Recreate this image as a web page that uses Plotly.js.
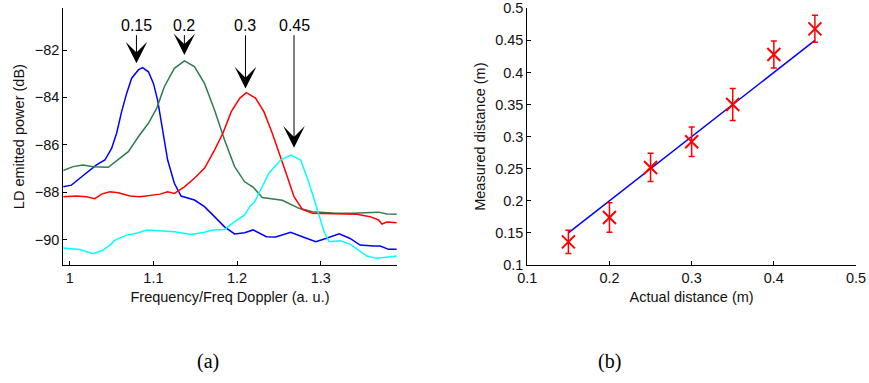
<!DOCTYPE html>
<html>
<head>
<meta charset="utf-8">
<script src="https://cdn.plot.ly/plotly-3.0.1.min.js"></script>
<style>html,body{margin:0;padding:0;background:#fff;}#chart{width:869px;height:383px;}</style>
</head>
<body>
<div id="chart"></div>
<script>
// ---- Panel (a): LD emitted power vs normalized frequency ----
const blueFreq = [0.992,1.002,1.012,1.024,1.032,1.042,1.050,1.056,1.062,1.068,1.074,1.082,1.087,1.094,1.100,1.105,1.110,1.117,1.125,1.133,1.149,1.161,1.173,1.185,1.197,1.209,1.219,1.235,1.246,1.264,1.278,1.294,1.306,1.322,1.335,1.347,1.363,1.371,1.381,1.391];
const bluePower = [-87.77,-87.70,-87.41,-87.06,-86.85,-86.64,-86.15,-85.51,-84.60,-83.83,-83.19,-82.84,-82.74,-82.92,-83.41,-84.11,-85.24,-86.64,-87.62,-88.16,-88.33,-88.61,-89.03,-89.46,-89.76,-89.71,-89.59,-89.88,-89.89,-89.69,-89.88,-90.09,-89.95,-89.75,-89.95,-90.23,-90.27,-90.27,-90.41,-90.41];

const greenFreq = [0.992,1.004,1.016,1.028,1.046,1.058,1.070,1.082,1.094,1.104,1.113,1.125,1.137,1.149,1.161,1.173,1.185,1.197,1.209,1.219,1.230,1.254,1.274,1.290,1.318,1.338,1.358,1.369,1.379,1.391];
const greenPower = [-87.09,-86.92,-86.85,-86.92,-86.95,-86.61,-86.29,-85.66,-85.09,-84.45,-83.55,-82.77,-82.46,-82.70,-83.41,-84.53,-85.80,-86.92,-87.56,-87.78,-88.22,-88.34,-88.68,-88.82,-88.89,-88.89,-88.87,-88.84,-88.92,-88.93];

const redFreq = [0.992,1.008,1.020,1.030,1.038,1.048,1.058,1.072,1.084,1.096,1.108,1.117,1.125,1.137,1.149,1.161,1.173,1.183,1.193,1.203,1.211,1.222,1.232,1.242,1.252,1.260,1.268,1.278,1.290,1.306,1.322,1.343,1.359,1.369,1.373,1.379,1.391];
const redPower = [-88.19,-88.16,-88.19,-88.27,-88.08,-87.98,-88.02,-88.16,-88.19,-88.12,-88.08,-87.98,-88.05,-87.77,-87.41,-86.99,-86.22,-85.51,-84.60,-84.04,-83.80,-84.03,-84.60,-85.51,-86.50,-87.35,-88.19,-88.72,-88.89,-88.90,-88.92,-88.93,-89.03,-89.17,-89.34,-89.26,-89.29];

const cyanFreq = [0.992,1.000,1.012,1.028,1.040,1.048,1.054,1.068,1.080,1.092,1.108,1.125,1.145,1.161,1.171,1.185,1.197,1.209,1.215,1.221,1.227,1.238,1.252,1.264,1.276,1.286,1.296,1.304,1.310,1.323,1.335,1.347,1.355,1.367,1.379,1.391];
const cyanPower = [-90.35,-90.37,-90.42,-90.59,-90.44,-90.23,-90.02,-89.81,-89.73,-89.59,-89.64,-89.67,-89.78,-89.69,-89.59,-89.57,-89.24,-88.96,-88.61,-88.40,-87.98,-87.20,-86.64,-86.43,-86.64,-87.62,-88.75,-89.67,-90.09,-90.05,-90.19,-90.51,-90.69,-90.79,-90.75,-90.69];

// arrow labels (distances) and where they point
const arrowLabels = ["0.15","0.2","0.3","0.45"];
const arrowTipFreq = [1.0797,1.137,1.210,1.268];
const arrowTipPower = [-82.56,-82.21,-83.62,-86.12];
const arrowTextPower = -80.95;

// ---- Panel (b): measured vs actual distance ----
const actualDist = [0.15,0.20,0.25,0.30,0.35,0.40,0.45];
const measuredDist = [0.136,0.174,0.252,0.292,0.350,0.428,0.468];
const measuredErr = [0.018,0.023,0.022,0.023,0.025,0.021,0.021];
const idealX = [0.15,0.45];
const idealY = [0.15,0.45];

const W = 869, H = 383;
const FONT = "Liberation Sans, Arial, sans-serif";
const lw = 1.5;

const traces = [
  {x: blueFreq, y: bluePower, mode:'lines', line:{color:'#0000ff', width:lw}, xaxis:'x', yaxis:'y'},
  {x: greenFreq, y: greenPower, mode:'lines', line:{color:'#2e7d4f', width:lw}, xaxis:'x', yaxis:'y'},
  {x: redFreq, y: redPower, mode:'lines', line:{color:'#ff0000', width:lw}, xaxis:'x', yaxis:'y'},
  {x: cyanFreq, y: cyanPower, mode:'lines', line:{color:'#00ffff', width:lw}, xaxis:'x', yaxis:'y'},
  {x: idealX, y: idealY, mode:'lines', line:{color:'#0000ff', width:lw}, xaxis:'x2', yaxis:'y2'},
  {x: actualDist, y: measuredDist, mode:'markers', xaxis:'x2', yaxis:'y2',
   marker:{symbol:'x-thin-open', size:13, color:'#ff0000', line:{color:'#ff0000', width:2}},
   error_y:{type:'data', array: measuredErr, visible:true, color:'#ff0000', thickness:1.5, width:3}}
];

const annotations = arrowLabels.map((t,i)=>({
  x: arrowTipFreq[i], y: arrowTipPower[i], xref:'x', yref:'y',
  ax: arrowTipFreq[i], ay: arrowTextPower, axref:'x', ayref:'y',
  text: t, showarrow:true, arrowhead:3, arrowsize:3.6, arrowwidth:1, arrowcolor:'#000',
  font:{family:FONT, size:16, color:'#000'}
}));
annotations.push({x:208/W, y:(H-361)/H, xref:'paper', yref:'paper', xanchor:'center', yanchor:'middle', text:'(a)', showarrow:false,
  font:{family:'Liberation Serif, DejaVu Serif, serif', size:20, color:'#000'}});
annotations.push({x:609/W, y:(H-361)/H, xref:'paper', yref:'paper', xanchor:'center', yanchor:'middle', text:'(b)', showarrow:false,
  font:{family:'Liberation Serif, DejaVu Serif, serif', size:20, color:'#000'}});

const axCommon = {showline:true, linecolor:'#000', linewidth:1, ticks:'inside', ticklen:4, tickcolor:'#000',
  showgrid:false, zeroline:false, automargin:false, tickfont:{family:FONT, size:14.5, color:'#111'}};
const yDom = [(H-265)/H, (H-8.3)/H];

const layout = {
  width:W, height:H, margin:{l:0,r:0,t:0,b:0}, showlegend:false,
  paper_bgcolor:'#fff', plot_bgcolor:'#fff',
  xaxis: Object.assign({}, axCommon, {domain:[63.3/W, 396.7/W], range:[0.9923,1.3907], tick0:1, dtick:0.1, anchor:'y',
    title:{text:'Frequency/Freq Doppler (a. u.)', font:{family:FONT, size:14.5, color:'#111'}, standoff:6}}),
  yaxis: Object.assign({}, axCommon, {domain:yDom, range:[-91.07,-80.24], tick0:-90, dtick:2, anchor:'x',
    title:{text:'LD emitted power (dB)', font:{family:FONT, size:14.5, color:'#111'}, standoff:6}}),
  xaxis2: Object.assign({}, axCommon, {domain:[527.3/W, 856/W], range:[0.1,0.5], tick0:0.1, dtick:0.1, anchor:'y2',
    title:{text:'Actual distance (m)', font:{family:FONT, size:14.5, color:'#111'}, standoff:6}}),
  yaxis2: Object.assign({}, axCommon, {domain:yDom, range:[0.1,0.5], tick0:0.1, dtick:0.05, anchor:'x2',
    title:{text:'Measured distance (m)', font:{family:FONT, size:14.5, color:'#111'}, standoff:6}}),
  annotations: annotations
};

Plotly.newPlot('chart', traces, layout, {staticPlot:true, displayModeBar:false});
</script>
</body>
</html>
